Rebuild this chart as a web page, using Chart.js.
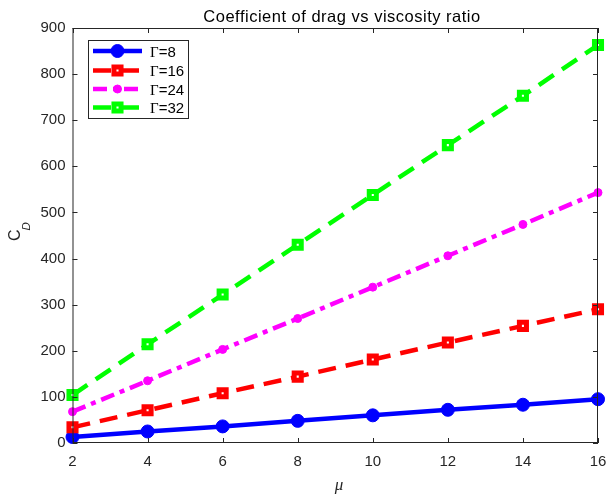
<!DOCTYPE html>
<html>
<head>
<meta charset="utf-8">
<script src="https://cdn.jsdelivr.net/npm/chart.js@4.4.0/dist/chart.umd.min.js"></script>
<style>
    html, body { margin: 0; padding: 0; background: #fff; }
</style>
</head>
<body>
<canvas id="chart" width="608" height="495"></canvas>
<script>
// viscosity ratio (x) and drag coefficient per Gamma
const mu = [2, 4, 6, 8, 10, 12, 14, 16];
const cdGamma8 = [13, 25, 36, 48, 60, 72, 83, 95];
const cdGamma16 = [34, 71, 108, 144, 181, 218, 254, 290];
const cdGamma24 = [68, 135, 203, 270, 338, 406, 474, 543];
const cdGamma32 = [104, 214, 322, 430, 538, 646, 753, 863];
const seriesLabels = ['8', '16', '24', '32'];
const xTicks = [2, 4, 6, 8, 10, 12, 14, 16];
const yTicks = [0, 100, 200, 300, 400, 500, 600, 700, 800, 900];

const axisColor = '#262626';
const sans = '"Liberation Sans", Arial, sans-serif';

function pts(ys) {
    return mu.map((x, i) => ({ x: x, y: ys[i] }));
}

// box, inward ticks, titles and legend drawn MATLAB style
const matlabAxes = {
    id: 'matlabAxes',
    afterDraw(chart) {
        const ctx = chart.ctx;
        const a = chart.chartArea;
        const xs = chart.scales.x, ys = chart.scales.y;
        ctx.save();
        ctx.strokeStyle = axisColor;
        ctx.lineWidth = 1;
        ctx.strokeRect(a.left + 0.5, a.top + 0.5, a.right - a.left - 1, a.bottom - a.top - 1);
        ctx.beginPath();
        xTicks.forEach(v => {
            const px = Math.round(xs.getPixelForValue(v)) + 0.5;
            ctx.moveTo(px, a.bottom); ctx.lineTo(px, a.bottom - 5);
            ctx.moveTo(px, a.top); ctx.lineTo(px, a.top + 5);
        });
        yTicks.forEach(v => {
            const py = Math.round(ys.getPixelForValue(v)) + 0.5;
            ctx.moveTo(a.left, py); ctx.lineTo(a.left + 5, py);
            ctx.moveTo(a.right, py); ctx.lineTo(a.right - 5, py);
        });
        ctx.stroke();

        // title
        ctx.fillStyle = '#000';
        ctx.font = '16.5px ' + sans;
        ctx.letterSpacing = '0.5px';
        ctx.textAlign = 'center';
        ctx.textBaseline = 'alphabetic';
        ctx.fillText('Coefficient of drag vs viscosity ratio', 342, 22);
        ctx.letterSpacing = '0px';

        // x label
        ctx.fillStyle = axisColor;
        ctx.font = 'italic 17px "Liberation Serif", serif';
        ctx.fillText('\u03bc', 339, 490);

        // y label C_D
        ctx.save();
        ctx.translate(20, 241);
        ctx.rotate(-Math.PI / 2);
        ctx.textAlign = 'left';
        ctx.font = '16px ' + sans;
        ctx.fillText('C', 0, 0);
        const cw = ctx.measureText('C').width;
        ctx.font = 'italic 11.5px ' + sans;
        ctx.fillText('D', cw - 1, 10);
        ctx.restore();

        // legend
        const box = { left: 88.5, top: 40.5, right: 188.5, bottom: 118.5 };
        ctx.fillStyle = '#fff';
        ctx.fillRect(box.left, box.top, box.right - box.left, box.bottom - box.top);
        ctx.strokeStyle = axisColor;
        ctx.lineWidth = 1;
        ctx.strokeRect(box.left, box.top, box.right - box.left, box.bottom - box.top);
        const rowY = [51, 70.5, 89, 107.5];
        chart.data.datasets.forEach((ds, i) => {
            const y = rowY[i];
            ctx.save();
            ctx.strokeStyle = ds.borderColor;
            ctx.lineWidth = ds.borderWidth;
            ctx.setLineDash(ds.borderDash || []);
            ctx.beginPath();
            ctx.moveTo(93, y); ctx.lineTo(142, y);
            ctx.stroke();
            ctx.setLineDash([]);
            ctx.strokeStyle = ds.pointBorderColor;
            ctx.fillStyle = ds.pointBackgroundColor;
            ctx.lineWidth = ds.pointBorderWidth;
            Chart.helpers.drawPoint(ctx, {
                pointStyle: ds.pointStyle,
                radius: ds.pointRadius,
                borderWidth: ds.pointBorderWidth,
                rotation: 0
            }, 117.5, y);
            ctx.restore();
            ctx.fillStyle = '#000';
            ctx.textAlign = 'left';
            ctx.textBaseline = 'alphabetic';
            ctx.font = '15px "Liberation Serif", serif';
            ctx.fillText('\u0393', 150, y + 5.5);
            const gw = ctx.measureText('\u0393').width;
            ctx.font = '15px ' + sans;
            ctx.fillText('=' + seriesLabels[i], 150 + gw, y + 5.5);
        });
        ctx.restore();
    }
};

function series(label, ys, color, dash, style, radius, bw, fill, order) {
    return {
        label: label,
        data: pts(ys),
        borderColor: color,
        backgroundColor: fill,
        borderWidth: 4.5,
        borderDash: dash,
        borderCapStyle: 'butt',
        pointStyle: style,
        pointRadius: radius,
        pointBorderWidth: bw,
        pointBorderColor: color,
        pointBackgroundColor: fill,
        clip: false,
        order: order
    };
}

const datasets = [
    series('\u0393=8', cdGamma8, '#0000ff', [], 'circle', 6.5, 1, '#0000ff', 4),
    series('\u0393=16', cdGamma16, '#ff0000', [18, 10], 'rect', 5, 5, '#ffffff', 3),
    series('\u0393=24', cdGamma24, '#ff00ff', [14, 6, 5, 6], 'circle', 4, 1, '#ff00ff', 2),
    series('\u0393=32', cdGamma32, '#00ff00', [18, 10], 'rect', 5, 5, '#ffffff', 1)
];

new Chart(document.getElementById('chart'), {
    type: 'line',
    data: { datasets: datasets },
    options: {
        responsive: false,
        devicePixelRatio: 1,
        animation: false,
        layout: { padding: { top: 28, right: 8, left: 0, bottom: 0 } },
        plugins: {
            legend: { display: false },
            title: { display: false },
            tooltip: { enabled: false }
        },
        scales: {
            x: {
                type: 'linear',
                min: 2,
                max: 16,
                afterBuildTicks(s) { s.ticks = xTicks.map(v => ({ value: v })); },
                afterFit(s) {
                    s.height = 52;
                    s.paddingLeft = 0;
                    s.paddingRight = 0;
                },
                ticks: { font: { family: sans, size: 15 }, color: axisColor, padding: 10, maxRotation: 0 },
                grid: { display: false, drawTicks: false },
                border: { display: false }
            },
            y: {
                min: 0,
                max: 900,
                afterBuildTicks(s) { s.ticks = yTicks.map(v => ({ value: v })); },
                afterFit(s) { s.width = 72.5; },
                ticks: { font: { family: sans, size: 15 }, color: axisColor, padding: 7 },
                grid: { display: false, drawTicks: false },
                border: { display: false }
            }
        }
    },
    plugins: [matlabAxes]
});
</script>
</body>
</html>
